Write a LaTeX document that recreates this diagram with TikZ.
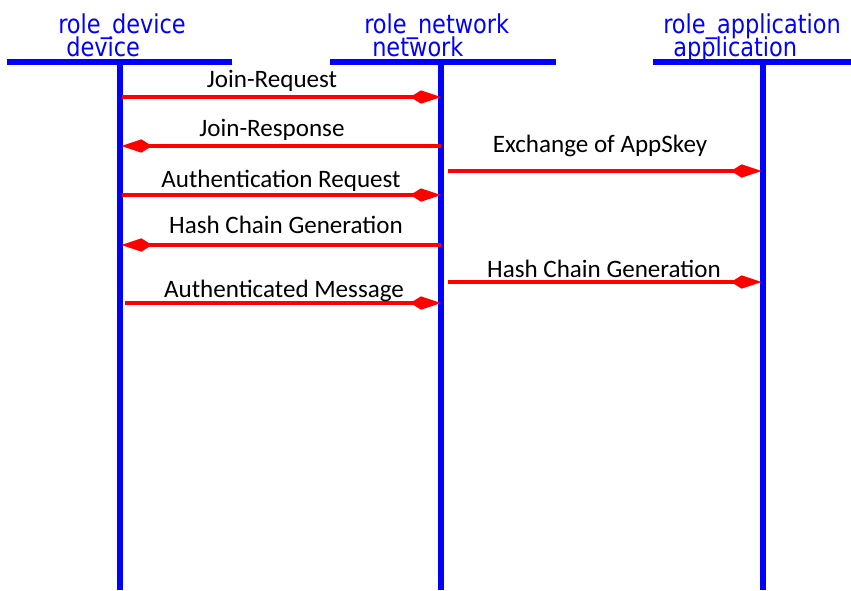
\documentclass[tikz,border=0pt]{standalone}
\usepackage{fontspec}
\setmainfont{Carlito}
\newfontfamily\rolefont{DejaVu Sans Condensed}
\usetikzlibrary{arrows.meta}
\definecolor{lifeblue}{RGB}{0,0,255}
\definecolor{msgred}{RGB}{255,0,0}
\newcommand{\rolelabel}[1]{\scalebox{0.96}[1]{#1}}
\tikzset{
  lifeline/.style={draw=lifeblue, line width=5.2pt},
  headbar/.style={draw=lifeblue, line width=3.8pt},
  rolename/.style={text=lifeblue, font=\rolefont\fontsize{19.5}{19.5}\selectfont, inner sep=0pt, anchor=base west},
  msg/.style={draw=msgred, line width=3pt, -{Kite[length=23pt,width=10pt,inset=8pt]}},
  msglabel/.style={font=\fontsize{18.8}{18.8}\selectfont, inner sep=0pt, anchor=base}
}
\begin{document}
\begin{tikzpicture}[x=0.75pt,y=-0.75pt]
\useasboundingbox (0,0) rectangle (851,590);

% lifeline anchors
\coordinate (dev) at (120,62);
\coordinate (devend) at (120,590);
\coordinate (net) at (441,62);
\coordinate (netend) at (441,590);
\coordinate (app) at (763,62);
\coordinate (append) at (763,590);

% header bars
\coordinate (devbarL) at (7,62);   \coordinate (devbarR) at (232,62);
\coordinate (netbarL) at (330,62); \coordinate (netbarR) at (556,62);
\coordinate (appbarL) at (653,62); \coordinate (appbarR) at (851,62);
\draw[headbar] (devbarL) -- (devbarR);
\draw[headbar] (netbarL) -- (netbarR);
\draw[headbar] (appbarL) -- (appbarR);

% lifelines
\draw[lifeline] (dev) -- (devend);
\draw[lifeline] (net) -- (netend);
\draw[lifeline] (app) -- (append);

% role names
\node[rolename] (devrole) at (58,33) {\rolelabel{role\_device}};
\node[rolename] (devname) at (66,56) {\rolelabel{device}};
\node[rolename] (netrole) at (364,33) {\rolelabel{role\_network}};
\node[rolename] (netname) at (372,56) {\rolelabel{network}};
\node[rolename] (approle) at (663,33) {\rolelabel{role\_application}};
\node[rolename] (appname) at (673,56) {\rolelabel{application}};

% messages
\draw[msg] ([xshift=1.5pt]dev |- 0,97) -- (net |- 0,97);
\node[msglabel] (m1) at (272,87) {Join-Request};

\draw[msg] (net |- 0,146) -- ([xshift=1pt]dev |- 0,146);
\node[msglabel] (m2) at (272,136) {Join-Response};

\draw[msg] ([xshift=5pt]net |- 0,171) -- ([xshift=-1pt]app |- 0,171);
\node[msglabel] (m3) at (600,152) {Exchange of AppSkey};

\draw[msg] ([xshift=1.5pt]dev |- 0,195) -- (net |- 0,195);
\node[msglabel] (m4) at (281,187) {Authentication Request};

\draw[msg] (net |- 0,245) -- ([xshift=1pt]dev |- 0,245);
\node[msglabel] (m5) at (286,233) {Hash Chain Generation};

\draw[msg] ([xshift=5pt]net |- 0,282) -- ([xshift=-1pt]app |- 0,282);
\node[msglabel] (m6) at (604,277) {Hash Chain Generation};

\draw[msg] ([xshift=4pt]dev |- 0,303) -- (net |- 0,303);
\node[msglabel] (m7) at (284,297) {Authenticated Message};
\end{tikzpicture}
\end{document}
